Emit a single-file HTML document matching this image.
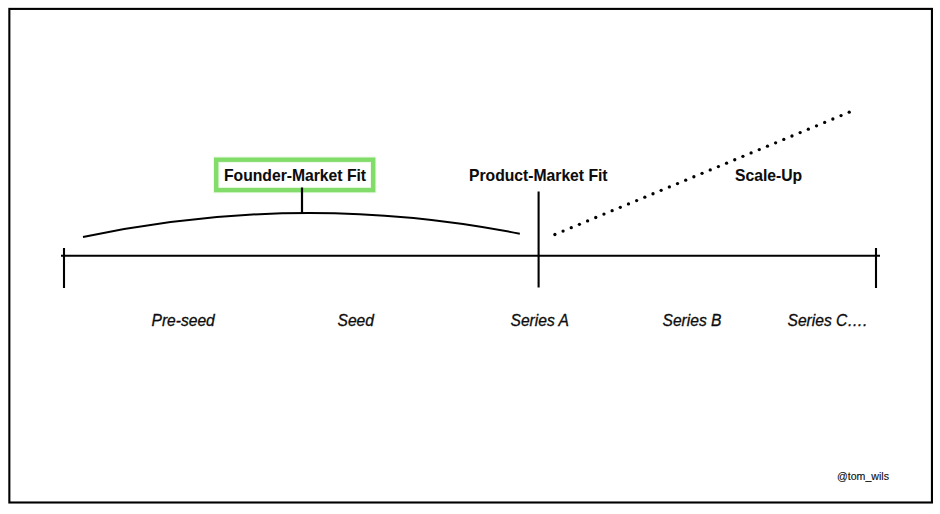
<!DOCTYPE html>
<html><head><meta charset="utf-8">
<style>
html,body{margin:0;padding:0;background:#fff;width:940px;height:514px;overflow:hidden}
svg{position:absolute;left:0;top:0}
text{font-family:"Liberation Sans",sans-serif;fill:#0c0c0c;stroke:#0c0c0c;stroke-width:0.3px}
.b{font-weight:bold;font-size:15.7px;stroke-width:0.08px}
.i{font-style:italic;font-size:15.6px}
</style></head><body>
<svg width="940" height="514" viewBox="0 0 940 514">
<rect x="9.35" y="8.9" width="922.6" height="493.6" fill="none" stroke="#000" stroke-width="2.1"/>
<line x1="61" y1="255.8" x2="880" y2="255.8" stroke="#000" stroke-width="2.1"/>
<line x1="64" y1="248" x2="64" y2="288" stroke="#000" stroke-width="2.1"/>
<line x1="876" y1="248" x2="876" y2="288" stroke="#000" stroke-width="2.1"/>
<line x1="538.6" y1="191.5" x2="538.6" y2="287.5" stroke="#000" stroke-width="2.1"/>
<path d="M83,237.1 Q301,190.6 519.8,233.7" fill="none" stroke="#000" stroke-width="2"/>
<rect x="216.2" y="159.7" width="157" height="30.4" fill="none" stroke="#ecfae6" stroke-width="6.4"/>
<rect x="216.2" y="159.7" width="157" height="30.4" fill="none" stroke="#82dc6a" stroke-width="4.4"/>
<line x1="302" y1="187.5" x2="302" y2="213" stroke="#000" stroke-width="2.2"/>
<g fill="#000"><circle cx="554.90" cy="234.50" r="1.65"/><circle cx="563.07" cy="231.10" r="1.65"/><circle cx="571.25" cy="227.71" r="1.65"/><circle cx="579.42" cy="224.31" r="1.65"/><circle cx="587.60" cy="220.91" r="1.65"/><circle cx="595.77" cy="217.51" r="1.65"/><circle cx="603.95" cy="214.12" r="1.65"/><circle cx="612.12" cy="210.72" r="1.65"/><circle cx="620.30" cy="207.32" r="1.65"/><circle cx="628.48" cy="203.93" r="1.65"/><circle cx="636.65" cy="200.53" r="1.65"/><circle cx="644.83" cy="197.13" r="1.65"/><circle cx="653.00" cy="193.73" r="1.65"/><circle cx="661.17" cy="190.34" r="1.65"/><circle cx="669.35" cy="186.94" r="1.65"/><circle cx="677.52" cy="183.54" r="1.65"/><circle cx="685.70" cy="180.14" r="1.65"/><circle cx="693.88" cy="176.75" r="1.65"/><circle cx="702.05" cy="173.35" r="1.65"/><circle cx="710.23" cy="169.95" r="1.65"/><circle cx="718.40" cy="166.56" r="1.65"/><circle cx="726.58" cy="163.16" r="1.65"/><circle cx="734.75" cy="159.76" r="1.65"/><circle cx="742.92" cy="156.36" r="1.65"/><circle cx="751.10" cy="152.97" r="1.65"/><circle cx="759.27" cy="149.57" r="1.65"/><circle cx="767.45" cy="146.17" r="1.65"/><circle cx="775.62" cy="142.78" r="1.65"/><circle cx="783.80" cy="139.38" r="1.65"/><circle cx="791.98" cy="135.98" r="1.65"/><circle cx="800.15" cy="132.58" r="1.65"/><circle cx="808.33" cy="129.19" r="1.65"/><circle cx="816.50" cy="125.79" r="1.65"/><circle cx="824.67" cy="122.39" r="1.65"/><circle cx="832.85" cy="118.99" r="1.65"/><circle cx="841.03" cy="115.60" r="1.65"/><circle cx="849.20" cy="112.20" r="1.65"/></g>
<text class="b" transform="translate(224,180.9) scale(1,1.0)">Founder-Market Fit</text>
<text class="b" transform="translate(469,180.9) scale(1,1.0)">Product-Market Fit</text>
<text class="b" transform="translate(735,180.9) scale(1,1.0)">Scale-Up</text>
<text class="i" transform="translate(151.5,326.3) scale(1,1.0)">Pre-seed</text>
<text class="i" transform="translate(337.5,326.3) scale(1,1.0)">Seed</text>
<text class="i" transform="translate(510.5,326.3) scale(1,1.0)">Series A</text>
<text class="i" transform="translate(662.5,326.3) scale(1,1.0)">Series B</text>
<text class="i" transform="translate(787.5,326.3) scale(1,1.0)">Series C….</text>
<text x="837" y="480" style="font-size:10.6px;stroke-width:0.12px">@tom_wils</text>
</svg>
</body></html>
